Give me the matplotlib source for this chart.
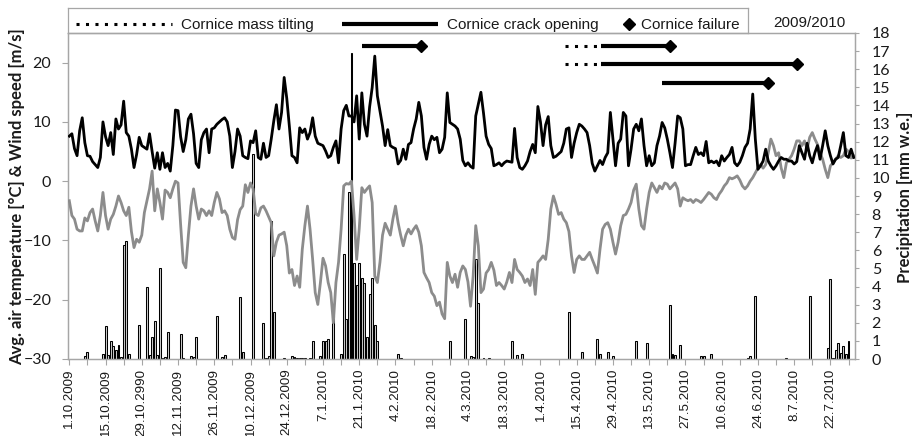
import matplotlib
matplotlib.use("Agg")
import matplotlib.pyplot as plt
import numpy as np

# ---------------------------------------------------------------------------
# Daily meteorological series, 1.10.2009 - 31.7.2010 (index = days since 1.10.2009)
# ---------------------------------------------------------------------------
wind_speed = [
    7.6, 8.0, 5.5, 4.3, 8.5, 10.7, 6.5, 4.3, 4.2, 3.3, 2.8, 2.3, 4.0, 10.0, 7.5, 6.0,
    8.2, 4.5, 10.5, 8.8, 9.5, 13.5, 8.2, 7.6, 5.4, 2.3, 4.5, 7.4, 6.0, 5.7, 5.4, 8.0,
    5.0, 2.2, 4.8, 2.0, 4.8, 2.3, 3.0, 1.7, 6.0, 12.0, 11.9, 7.5, 5.0, 7.0, 10.5, 11.3,
    8.0, 3.0, 2.3, 7.0,
    8.2, 8.8, 4.8, 8.8, 9.0, 9.6, 10.0, 10.4, 10.7, 10.0, 7.6, 2.3, 5.0, 8.8, 7.6, 4.3,
    4.0, 3.8, 6.8, 6.5, 8.5, 4.0, 3.7, 6.4, 4.0, 4.3, 7.1, 10.2, 12.9, 8.8, 11.6, 17.5,
    14.0, 9.3, 4.3, 4.0, 3.1, 9.0, 8.2, 8.8, 7.1, 8.2, 10.7, 7.6, 6.4, 6.2, 6.0, 5.1,
    4.0, 4.3,
    5.7, 6.8, 3.1, 8.8, 11.9, 12.8, 11.0, 11.0, 10.0, 14.4, 7.1, 14.9, 9.6, 7.6, 12.5,
    15.8, 21.1, 14.4, 11.9, 9.3, 6.0, 8.7, 6.0, 5.7, 5.5, 2.9, 3.5, 5.4, 3.7, 6.2, 6.5,
    8.8, 10.5, 13.3, 11.0, 5.7, 3.7, 6.2, 7.6, 7.0, 7.4, 4.8, 5.4, 7.4, 14.9, 9.9, 9.6,
    9.3, 8.8, 7.1, 3.5,
    2.6, 3.1, 2.5, 2.2, 11.0, 13.0, 15.0, 11.5, 7.6, 6.2, 5.5, 2.6, 2.8, 3.1, 2.6, 3.1,
    3.4, 3.3, 3.2, 8.9, 4.0, 2.3, 2.0, 2.6, 3.4, 5.0, 6.2, 4.8, 12.6, 10.0, 6.0, 9.5,
    10.9, 6.0, 4.0, 4.2, 4.6, 5.0, 6.4, 8.8, 9.0, 4.0, 6.4, 8.2, 9.6, 9.3, 8.8, 8.2,
    6.0, 3.0,
    1.7, 2.6, 3.5, 2.8, 4.0, 4.8, 11.6, 7.1, 2.6, 6.4, 7.1, 11.6, 11.0, 2.6, 5.4, 8.8,
    9.6, 8.5, 10.5, 6.0, 2.6, 4.3, 2.6, 3.1, 6.0, 7.6, 9.9, 9.0, 7.1, 4.8, 2.3, 6.4,
    11.0, 10.7, 8.8, 2.6, 2.8, 2.8, 4.3, 5.7, 4.5, 4.8, 4.3, 6.7, 3.1, 3.4, 3.1, 3.4,
    2.6, 4.3, 3.4, 4.0,
    4.5, 5.7, 3.1, 2.6, 3.2, 4.3, 5.7, 6.4, 8.8, 14.7, 7.1, 2.0, 2.6, 3.4, 5.4, 3.4,
    2.6, 2.0, 2.6, 3.4, 4.0, 3.7, 3.7, 3.4, 3.4, 2.9, 3.3, 6.0, 4.8, 3.7, 6.4, 4.3,
    3.1, 4.8, 6.0, 3.7, 6.0, 8.5, 6.0, 4.3, 2.9, 3.7, 4.0, 6.0, 8.2, 4.3, 4.0, 5.4,
    4.0,
]

air_temp = [
    -3.3, -5.8, -6.4, -8.1, -8.4, -8.4, -6.2, -6.7, -5.3, -4.7, -6.7, -8.4, -5.8, -1.9,
    -5.8, -8.1, -6.4, -5.6, -4.2, -2.5, -3.6, -5.0, -5.8, -4.4, -8.5, -11.2, -9.8, -10.3,
    -9.1, -5.3, -3.3, -1.3, 1.7, -5.0, -1.3, -3.6, -6.4, -1.5, -1.9, -2.8, -1.3, 0.0,
    -0.3, -7.3, -13.7, -14.6, -9.1, -4.2, -1.3, -4.2, -6.4,
    -4.7, -5.0, -5.8, -5.0, -5.8, -3.6, -1.9, -3.0, -5.3, -5.0, -5.8, -8.1, -9.5, -9.8,
    -6.5, -4.8, -4.2, -0.6, -1.9, -0.3, -1.3, -5.5, -5.8, -4.5, -4.2, -5.0, -6.0, -7.0,
    -12.6, -10.3, -9.1, -8.9, -8.6, -10.9, -15.5, -14.9, -17.6, -16.0, -17.9, -11.5,
    -7.5, -4.2, -8.1, -13.2, -18.8, -20.8, -17.1, -13.0, -14.3, -17.1, -18.8,
    -23.9, -17.1, -13.7, -8.1, -0.8, -0.4, -0.5, 0.0, -5.8, -13.2, -8.0, -1.1, -1.9,
    -1.3, -0.8, -3.6, -16.0, -17.1, -13.7, -9.1, -7.1, -8.1, -9.1, -6.4, -4.2, -7.0,
    -9.1, -10.9, -9.1, -8.1, -8.9, -8.1, -7.5, -8.6, -10.9, -15.4, -16.3, -17.1, -18.8,
    -19.4, -21.0, -20.4, -22.4, -23.2, -13.7, -16.0, -17.1, -15.7, -17.9, -15.4, -14.3,
    -14.9, -17.0, -21.1, -16.0, -7.5, -10.9, -18.8, -18.2, -15.5, -14.9, -13.7, -15.0,
    -17.6, -17.1, -17.6, -18.2, -17.0, -15.4, -17.1, -13.2, -14.9, -15.4, -16.0, -17.1,
    -16.5, -17.6, -14.9, -19.1, -13.7, -13.2, -12.6, -13.2, -9.8, -4.7, -2.5, -3.9,
    -5.6, -5.3, -6.4, -7.0, -8.5, -12.6, -15.4, -13.2, -12.6, -13.2, -13.2, -12.6,
    -12.0, -13.2, -14.3,
    -15.5, -11.5, -8.1, -7.3, -7.0, -8.1, -10.3, -12.3, -10.3, -7.5, -5.8, -5.6, -4.7,
    -3.6, -1.5, -0.5, -4.7, -7.5, -8.1, -4.7, -1.9, -0.3, -1.1, -1.9, -0.8, -1.3, -0.3,
    -0.5, -1.3, -0.8, -0.3, -1.3, -4.2, -2.8, -3.1, -3.3, -3.1, -3.6, -3.1, -3.3, -3.6,
    -3.1, -2.5, -1.9, -2.2, -2.8, -3.1, -2.2, -1.6, -0.8, -0.3,
    0.6, 0.4, 0.6, 0.9, 0.2, -0.8, -1.3, -0.8, 0.0, 0.6, 1.4, 2.2, 2.8, 2.2, 2.8, 4.8,
    7.1, 6.0, 4.3, 4.8, 2.2, 0.6, 3.1, 3.7, 4.3, 5.4, 6.8, 6.8, 6.0, 6.8, 5.4, 7.4,
    8.2, 7.1, 6.2, 4.8, 3.7, 2.0, 0.6, 2.6, 3.1, 3.7, 4.3, 4.0, 4.3, 5.4, 5.0, 3.9,
    4.3,
]

# Daily precipitation [mm w.e.]; days without an entry had none
precip_day = [
    6, 7, 13, 14, 15, 16, 17, 18, 19, 20, 21, 22, 23, 27, 30, 31, 32, 33, 34, 35, 36,
    37, 38, 43, 44, 47, 48, 49, 57, 59, 60, 66, 67, 71, 75, 76, 77, 78, 79, 83, 86, 87,
    88, 89, 90, 91, 93, 94, 97, 98, 99, 100, 102, 105, 106, 107, 108, 109, 110, 111,
    112, 113, 114, 115, 116, 117, 118, 119, 127, 128, 147, 153, 155, 156, 157, 158,
    160, 162, 171, 173, 175, 193, 198, 204, 205, 208, 210, 219, 223, 232, 233, 234,
    236, 244, 245, 248, 262, 263, 265, 277, 286, 293, 294, 295, 296, 297, 298, 299,
    300, 301,
]
precip_mm = [
    0.15, 0.4, 0.3, 1.8, 0.2, 1.0, 0.7, 0.5, 0.8, 0.1, 6.3, 6.5, 0.3, 1.9, 4.0, 0.2,
    1.2, 2.1, 0.2, 5.0, 0.05, 0.1, 1.5, 1.4, 0.05, 0.17, 0.1, 1.2, 2.4, 0.1, 0.2, 3.4,
    0.4, 11.3, 2.0, 0.05, 0.15, 7.6, 2.6, 0.05, 0.17, 0.1, 0.06, 0.06, 0.06, 0.06,
    0.06, 1.0, 0.17, 1.0, 1.0, 1.1, 2.4, 0.3, 5.8, 2.2, 9.2, 16.9, 5.3, 4.1, 5.3, 4.5,
    4.2, 1.2, 3.6, 4.5, 1.9, 1.0, 0.28, 0.07, 1.0, 2.2, 0.17, 0.13, 5.5, 3.1, 0.05,
    0.05, 1.0, 0.2, 0.3, 2.6, 0.4, 1.1, 0.3, 0.4, 0.17, 1.0, 0.9, 3.0, 0.3, 0.2, 0.8,
    0.15, 0.15, 0.3, 0.07, 0.17, 3.5, 0.07, 3.5, 0.6, 4.4, 0.05, 0.5, 0.9, 0.35, 0.7,
    0.3, 1.0,
]

# Cornice events (days since 1.10.2009): mass tilting start, crack opening, failure
event_tilt = [None, 191.5, 191.5, None]
event_crack = [113, 205.5, 205.5, 229]
event_fail = [136, 232, 281, 270]
event_level = [22.8, 22.8, 19.8, 16.5]

date_labels = [
    "1.10.2009", "15.10.2009", "29.10.2990", "12.11.2009", "26.11.2009",
    "10.12.2009", "24.12.2009", "7.1.2010", "21.1.2010", "4.2.2010", "18.2.2010",
    "4.3.2010", "18.3.2010", "1.4.2010", "15.4.2010", "29.4.2010", "13.5.2010",
    "27.5.2010", "10.6.2010", "24.6.2010", "8.7.2010", "22.7.2010",
]

days = np.arange(len(wind_speed))

AX_GREY = "#a6a6a6"
TXT = "#1a1a1a"
NUM_FONT = ["Lato", "DejaVu Sans"]
ARIAL = ["Liberation Sans", "DejaVu Sans"]

W, H = 914, 436
fig = plt.figure(figsize=(W / 100, H / 100), dpi=100)

x0, x1, ytop, ybot = 68, 855, 33, 359
ax_p = fig.add_axes([x0 / W, 1 - ybot / H, (x1 - x0) / W, (ybot - ytop) / H])
ax_t = ax_p.twinx()

# Precipitation bars (right axis)
ax_p.bar(precip_day, precip_mm, width=0.75, color="#d0d0d0",
         edgecolor="black", linewidth=0.75, zorder=2)
ax_p.set_ylim(0, 18)
ax_p.set_yticks(range(0, 19))
ax_p.yaxis.tick_right()
ax_p.tick_params(axis="y", which="both", direction="out", length=3,
                 width=0.8, color=AX_GREY, pad=9, labelsize=11.5, labelcolor=TXT)
for lab in ax_p.get_yticklabels():
    lab.set_family(NUM_FONT)

# Temperature and wind lines (left axis)
ax_t.plot(days, air_temp, color="#8c8c8c", lw=2.0, solid_joinstyle="round", zorder=3)
ax_t.plot(days, wind_speed, color="black", lw=2.0, solid_joinstyle="round", zorder=4)

# Cornice event bars
for tilt, crack, fail, lvl in zip(event_tilt, event_crack, event_fail, event_level):
    if tilt is not None:
        ax_t.plot([tilt, crack], [lvl, lvl], color="black", lw=2.2,
                  linestyle=(0, (1, 2.1)), dash_capstyle="butt")
    ax_t.plot([crack, fail], [lvl, lvl], color="black", lw=3.0, solid_capstyle="butt")
    ax_t.plot([fail], [lvl], marker="D", ms=6.5, color="black", linestyle="none")

ax_t.set_ylim(-30, 25)
ax_t.set_yticks(range(-30, 21, 10))
ax_t.yaxis.tick_left()
ax_t.tick_params(axis="y", which="both", direction="out", length=4,
                 width=0.8, color=AX_GREY, pad=8, labelsize=11.5, labelcolor=TXT)
for lab in ax_t.get_yticklabels():
    lab.set_family(NUM_FONT)

# Date axis: a label every 14 days, a tick every 7 days
ax_p.set_xlim(-0.5, len(days) - 0.5)
ax_p.set_xticks(np.arange(0, len(days), 14))
ax_p.set_xticklabels(date_labels, rotation=90, fontsize=9.6, family=ARIAL, color=TXT)
ax_p.set_xticks(np.arange(7, len(days), 14), minor=True)
ax_p.tick_params(axis="x", which="both", direction="out", length=4, width=0.8,
                 color=AX_GREY, pad=3)

for a in (ax_p, ax_t):
    for s in a.spines.values():
        s.set_color(AX_GREY)
        s.set_linewidth(0.9)

# Axis titles
fig.text(17 / W, 1 - 197 / H, "Avg. air temperature [°C] & Wind speed [m/s]",
         rotation=90, ha="center", va="center", fontsize=12, fontweight="bold",
         family=NUM_FONT, color=TXT)
fig.text(905 / W, 1 - 197 / H, "Precipitation [mm w.e.]",
         rotation=90, ha="center", va="center", fontsize=12, fontweight="bold",
         family=NUM_FONT, color=TXT)

# Key box above the plot area
lax = fig.add_axes([x0 / W, 1 - ytop / H, 680 / W, 25 / H])
lax.set_xlim(0, 680)
lax.set_ylim(0, 25)
lax.set_xticks([])
lax.set_yticks([])
lax.patch.set_alpha(0)
for s in lax.spines.values():
    s.set_color(AX_GREY)
    s.set_linewidth(0.9)
ky = 9
lax.plot([8, 104], [ky, ky], color="black", lw=2.2, linestyle=(0, (1, 2.1)),
         dash_capstyle="butt")
lax.text(113, 3.7, "Cornice mass tilting", fontsize=11, family=ARIAL,
         va="baseline", color=TXT)
lax.plot([274, 370], [ky, ky], color="black", lw=3.0, solid_capstyle="butt")
lax.text(379, 3.7, "Cornice crack opening", fontsize=11, family=ARIAL,
         va="baseline", color=TXT)
lax.plot([561], [ky], marker="D", ms=6.5, color="black", linestyle="none")
lax.text(573, 3.7, "Cornice failure", fontsize=11, family=ARIAL,
         va="baseline", color=TXT)

fig.text(773 / W, 1 - 27.3 / H, "2009/2010", fontsize=11, family=ARIAL,
         va="baseline", ha="left", color=TXT)

fig.savefig("out.png", dpi=100)
